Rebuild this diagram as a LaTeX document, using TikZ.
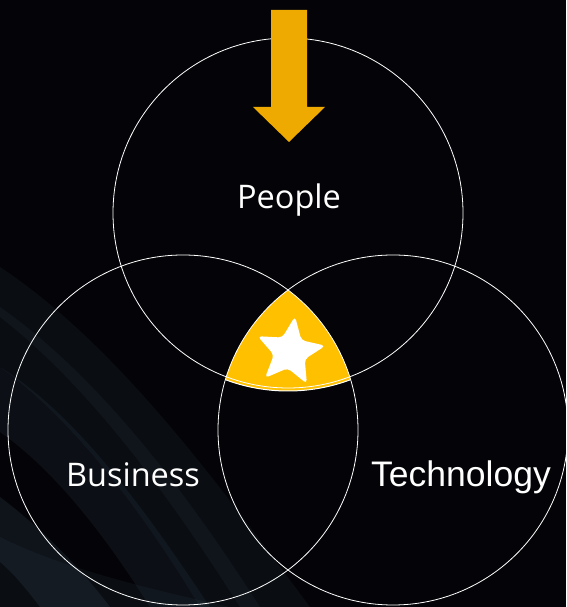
\documentclass[tikz,border=0pt]{standalone}
\usepackage{fontspec}
\setmainfont{Open Sans}
\newfontfamily\techfont{Liberation Sans}
\usetikzlibrary{shapes.geometric}
\definecolor{bgblack}{RGB}{4,4,8}
\definecolor{swoosh}{RGB}{70,95,115}
\definecolor{venngold}{RGB}{255,192,0}
\definecolor{arrowgold}{RGB}{238,170,0}
\tikzset{
  vennring/.style={circle, draw=white, line width=0.8pt, minimum size=350pt, inner sep=0pt},
  vennlabel/.style={text=white, font=\fontsize{32.5}{38}\selectfont},
  swooshband/.style={fill=swoosh, fill opacity=#1, draw=none},
}
\begin{document}
\begin{tikzpicture}[x=1pt,y=1pt]
\fill[bgblack] (0,0) rectangle (566,607);
\useasboundingbox (0,0) rectangle (566,607);
% background swooshes
\begin{scope}
\clip (0,0) rectangle (566,607);
\path[swooshband=0.10] (0,340) .. controls (120,260) and (220,120) .. (310,0) -- (240,0) .. controls (170,110) and (90,220) .. (0,290) -- cycle;
\path[swooshband=0.10] (0,300) .. controls (100,230) and (190,110) .. (260,0) -- (200,0) .. controls (140,100) and (70,190) .. (0,240) -- cycle;
\path[swooshband=0.13] (0,240) .. controls (80,190) and (150,90) .. (210,0) -- (150,0) .. controls (100,80) and (50,140) .. (0,175) -- cycle;
\path[swooshband=0.18] (0,110) .. controls (40,80) and (80,40) .. (110,0) -- (40,0) .. controls (25,20) and (12,35) .. (0,45) -- cycle;
\path[swooshband=0.10] (0,70) .. controls (60,40) and (140,20) .. (230,0) -- (0,0) -- cycle;
\end{scope}
% gold intersection
\begin{scope}
\clip (183,177) circle (175);
\clip (393,177) circle (175);
\fill[venngold] (288,394) circle (178);
\draw[white, line width=1pt] (288,394) circle (178);
\end{scope}
% circles
\node[vennring] (people) at (288,394) {};
\node[vennring] (business) at (183,177) {};
\node[vennring] (technology) at (393,177) {};
% star
\node[star, star points=5, star point ratio=2.2, fill=white, rounded corners=4pt, minimum size=72pt, inner sep=0pt, rotate=-8] (core) at (290,255) {};
% arrow
\fill[arrowgold] (271,597) -- (307,597) -- (307,500) -- (325,500) -- (289,465) -- (253,500) -- (271,500) -- cycle;
% labels
\node[vennlabel] (lpeople) at (289,407) {People};
\node[vennlabel] (lbusiness) at (133,132) {Business};
\node[vennlabel, font=\techfont\fontsize{35.5}{40}\selectfont] (ltech) at (461,130) {Technology};
\end{tikzpicture}
\end{document}
